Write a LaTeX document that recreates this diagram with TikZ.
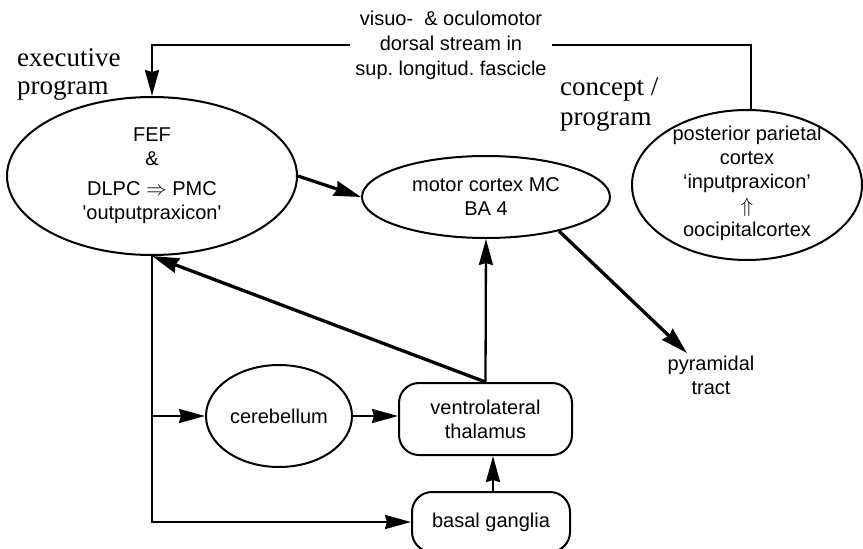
\documentclass[tikz,border=0pt]{standalone}
\usepackage{fontspec}
\setmainfont{Liberation Serif}
\setsansfont{Liberation Sans}
\usetikzlibrary{arrows.meta,shapes.geometric,calc}
\begin{document}
\begin{tikzpicture}[x=1pt,y=-1pt,
  every node/.style={font=\sffamily\fontsize{20}{24}\selectfont, inner sep=0pt},
  ell/.style={draw, ellipse, line width=2pt},
  rbox/.style={draw, rounded corners=20pt, line width=2pt, align=center},
  txt/.style={align=center},
  serif/.style={font=\rmfamily\fontsize{27}{28}\selectfont, align=left},
  con/.style={line width=2.3pt},
  arr/.style={line width=2.3pt, -{Stealth[length=26pt,width=14pt,inset=2pt]}},
  bigarr/.style={line width=3.3pt, -{Stealth[length=27pt,width=15pt,inset=2pt]}}
]
\useasboundingbox (0,0) rectangle (863,549);

% nodes
\node[ell, minimum width=290, minimum height=158, align=center] (fef) at (152,176)
  {FEF\\\&\\[6pt]DLPC $\Rightarrow$ PMC\\\textquotesingle outputpraxicon\textquotesingle};
\node[ell, minimum width=248, minimum height=82, align=center] (mc) at (486,197)
  {motor cortex MC\\BA 4};
\node[ell, minimum width=230, minimum height=150] (ppc) at (747,185) {};
\node[txt] (ppct) at (747,183)
  {posterior parietal\\cortex\\‘inputpraxicon’\\$\Uparrow$\\oocipitalcortex};
\node[ell, minimum width=146, minimum height=102] (cb) at (279,416) {cerebellum};
\node[rbox, minimum width=173, minimum height=72] (thal) at (485.5,419) {ventrolateral\\thalamus};
\node[rbox, minimum width=158, minimum height=60] (bg) at (491,522) {basal ganglia};
\node[txt, inner sep=5pt, font=\sffamily\fontsize{20}{25}\selectfont] (vis) at (451,45)
  {visuo-\ \ \& oculomotor\\dorsal stream in\\sup.\ longitud.\ fascicle};
\node[txt] (pyr) at (711,375) {pyramidal\\tract};
\node[serif, anchor=west] (exec) at (17,74) {executive\\program};
\node[serif, anchor=west, font=\rmfamily\fontsize{27}{30}\selectfont] (conc) at (560,105) {concept /\\program};
\coordinate (pyrtip) at (687,353);

% connectors
\draw[con] ([xshift=4pt]ppc.north) |- (vis.east);
\draw[arr] (vis.west) -| (fef.north);
\draw[bigarr] (fef.east) -- (mc.west);
\draw[arr] (thal.north) -- (mc.south);
\draw[bigarr] (thal.north) -- (fef.south);
\draw[arr] (fef.south) |- (bg.west);
\draw[arr] (fef.south |- cb.west) -- (cb.west);
\draw[arr] (cb.east) -- (cb.east -| thal.west);
\draw[arr] ([xshift=2pt]bg.north) -- ([xshift=2pt]bg.north |- thal.south);
\draw[bigarr] (mc.-25) -- (pyrtip);
\end{tikzpicture}
\end{document}
